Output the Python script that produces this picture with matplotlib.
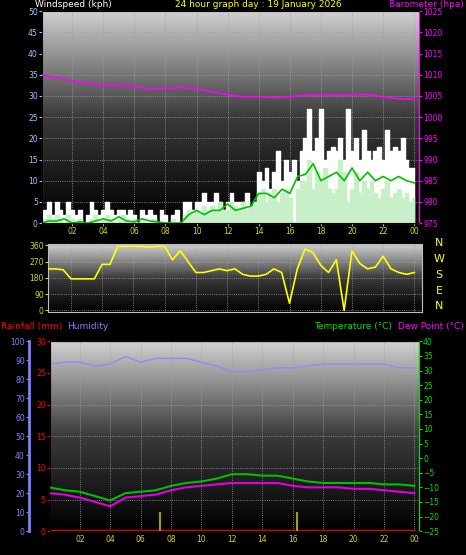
import matplotlib
matplotlib.use("Agg")
import matplotlib.pyplot as plt
import numpy as np
from matplotlib.colors import LinearSegmentedColormap

# ---- data ----
q_hours = [i / 4 for i in range(97)]
gust = [0, 3, 5, 2, 5, 3, 2, 5, 3, 2, 3, 0, 2, 5, 3, 2, 3, 5, 3, 2, 3, 3, 2, 3,
        2, 0, 3, 2, 3, 2, 0, 3, 2, 0, 2, 3, 0, 5, 5, 3, 5, 5, 7, 5, 5, 7, 5, 3,
        5, 7, 5, 5, 5, 7, 3, 5, 12, 10, 13, 8, 12, 17, 10, 15, 12, 15, 10, 17,
        20, 27, 17, 20, 27, 15, 17, 18, 17, 20, 15, 27, 17, 20, 15, 22, 17, 15, 17, 18,
        15, 22, 17, 18, 17, 20, 15, 13, 13]
speed = [0, 1, 2, 1, 2, 1, 0, 2, 1, 0, 1, 0, 0, 1, 2, 0, 1, 2, 1, 0, 1, 2, 1, 0,
         1, 0, 1, 0, 0, 1, 0, 0, 0, 0, 1, 0, 0, 2, 3, 2, 3, 2, 4, 3, 4, 3, 5, 3,
         3, 5, 4, 3, 5, 3, 4, 5, 7, 8, 5, 7, 8, 5, 7, 8, 6, 0, 8, 10, 10, 15, 8, 12,
         10, 13, 8, 7, 8, 15, 12, 5, 8, 12, 7, 10, 8, 10, 7, 6, 8, 10, 6, 7, 8, 6, 7, 5, 6]
h_hours = [i / 2 for i in range(49)]
avg_wind = [0, 0.5, 0.5, 1, 0, 0.3, 0, 0.5, 1, 0.5, 1.5, 0.5, 0.3, 1, 0.5, 0.3, 0, 0,
            0, 2, 3, 2, 3, 3, 4.5, 3, 3.5, 4, 7, 7, 6, 8, 7, 11, 11.5, 14, 10, 11,
            12, 10, 13, 10, 12, 10, 11, 10, 11, 10, 9.5]
direction = [360, 230, 230, 225, 175, 175, 175, 175, 255, 255, 355, 355, 355, 355,
             350, 355, 355, 280, 330, 270, 210, 210, 220, 230, 220, 230, 200, 190,
             190, 200, 230, 210, 40, 230, 340, 320, 250, 210, 280, 0, 330, 260, 230,
             240, 300, 230, 210, 200, 210]
hours = list(range(25))
baro = [1010, 1009.3, 1008.5, 1008, 1007.5, 1007.5, 1007.3, 1006.5, 1006.8, 1007,
        1006.7, 1006, 1005.3, 1004.8, 1004.8, 1004.6, 1004.8, 1005.2, 1005.2, 1005.2,
        1005.2, 1005.3, 1004.8, 1004.3, 1004.2]
temp = [-10, -11, -11.5, -13, -14.5, -12, -11.5, -11, -9.5, -8.5, -8, -7, -5.5, -5.5,
        -6, -6, -7, -8, -8.5, -8.5, -8.5, -8.5, -9, -9, -9.5]
dew = [-12, -12.5, -13.5, -15, -16.5, -13.5, -13, -12.5, -11, -10, -9.5, -9, -8.5,
       -8.5, -8.5, -8.5, -9.5, -10, -10, -10, -10.5, -10.5, -11, -11.5, -12]
humidity = [88, 89, 89, 87, 88, 92, 89, 91, 91, 91, 89, 87, 84, 84, 85, 86, 86, 87,
            88, 88, 88, 88, 88, 86, 86]
rain = [0] * 25
marks = [7.3, 16.3]
tick_hours = list(range(2, 25, 2))
tick_labels = ["02", "04", "06", "08", "10", "12", "14", "16", "18", "20", "22", "00"]

YEL = "#d8d800"
grad = LinearSegmentedColormap.from_list("g", ["#000000", "#3a3a3a", "#d0d0d0"])


def style(ax, xlim):
    ax.set_facecolor("black")
    ax.imshow(np.linspace(0, 1, 100)[::-1].reshape(-1, 1), cmap=grad, aspect="auto",
              extent=(0, 1, 0, 1), transform=ax.transAxes, zorder=0)
    ax.set_xlim(*xlim)
    ax.set_xticks(tick_hours)
    ax.set_xticklabels(tick_labels, color=YEL, fontsize=5.5)
    ax.grid(True, color="#a0a0a0", linestyle=":", linewidth=0.6)
    for s in ax.spines.values():
        s.set_color("#c0c0c0")
    ax.tick_params(length=2, pad=1)


fig = plt.figure(figsize=(4.66, 5.55), dpi=100, facecolor="black")

# windspeed / barometer
ax1 = fig.add_axes([0.090, 0.598, 0.809, 0.382])
style(ax1, (0.06, 24.3))
ax1.fill_between(q_hours, gust, step="mid", color="white", zorder=2)
ax1.fill_between(q_hours, speed, step="mid", color="#c8f0c8", zorder=3)
ax1.plot(h_hours, avg_wind, color="#00c000", lw=1.2, zorder=4)
ax1.set_ylim(0, 50)
ax1.set_yticks(range(0, 51, 5))
ax1.tick_params(axis="y", colors="#a0c8ff", labelsize=5.5)
ax1.tick_params(axis="x", colors="#a0a0a0")
for t in ax1.get_xticklabels():
    t.set_color(YEL)
axb = ax1.twinx()
axb.plot(hours, baro, color="#ff00ff", lw=1.2, zorder=5)
axb.set_ylim(975, 1025)
axb.set_yticks(range(975, 1026, 5))
axb.tick_params(axis="y", colors="#ff00ff", labelsize=5.5, length=2, pad=1)
axb.spines["right"].set_color("#ff00ff")

fig.text(0.075, 1.0, "Windspeed (kph)", color="white", fontsize=6.5, va="top")
fig.text(0.555, 1.0, "24 hour graph day : 19 January 2026", color="yellow",
         fontsize=6.5, va="top", ha="center")
fig.text(0.995, 1.0, "Barometer (hpa)", color="#ff00ff", fontsize=6.5, va="top", ha="right")

# wind direction
ax2 = fig.add_axes([0.103, 0.438, 0.803, 0.1225])
style(ax2, (0.53, 24.5))
ax2.plot(h_hours, direction, color="yellow", lw=1.2, zorder=3)
ax2.set_ylim(-8, 368)
ax2.set_yticks([0, 90, 180, 270, 360])
ax2.tick_params(axis="y", colors=YEL, labelsize=5.5)
ax2.set_xticklabels([])
for i, c in enumerate("NWSEN"):
    fig.text(0.942, 0.562 - i * 0.0285, c, color="yellow", fontsize=8, ha="center", va="center")

# rain / humidity / temperature / dew point
ax3 = fig.add_axes([0.107, 0.043, 0.792, 0.342])
style(ax3, (0.03, 24.3))
ax3.set_ylim(0, 30)
ax3.set_yticks(range(0, 31, 5))
ax3.tick_params(axis="y", colors="red", labelsize=5.5)
ax3.spines["left"].set_color("red")
ax3.plot(hours, rain, color="red", lw=2.5, zorder=6)
axh = ax3.twinx()
axh.set_ylim(0, 100)
axh.set_yticks(range(0, 101, 10))
axh.yaxis.tick_left()
axh.spines["left"].set_position(("outward", 15))
axh.spines["left"].set_visible(True)
axh.spines["left"].set_color("#8080ff")
axh.spines["left"].set_linewidth(2)
axh.tick_params(axis="y", colors="#8080ff", labelsize=5.5, length=2, pad=1)
axh.plot(hours, humidity, color="#8c8cff", lw=1, zorder=3)
axh.vlines(marks, 0, 10, color="#a0a000", lw=1.5, zorder=5)
axt = ax3.twinx()
axt.set_ylim(-25, 40)
axt.set_yticks(range(-25, 41, 5))
axt.tick_params(axis="y", colors="#00e000", labelsize=5.5, length=2, pad=1)
axt.spines["right"].set_color("#00e000")
axt.plot(hours, temp, color="#00c000", lw=1.5, zorder=4)
axt.plot(hours, dew, color="#e000e0", lw=1.5, zorder=4)

fig.text(0.002, 0.411, "Rainfall (mm)", color="red", fontsize=6.5, va="center")
fig.text(0.143, 0.411, "Humidity", color="#8080ff", fontsize=6.5, va="center")
fig.text(0.842, 0.411, "Temperature (\u00b0C)", color="#00e000", fontsize=6.5,
         va="center", ha="right")
fig.text(0.995, 0.411, "Dew Point (\u00b0C)", color="#ff00ff", fontsize=6.5,
         va="center", ha="right")

fig.savefig("out.png", dpi=100, facecolor="black")
